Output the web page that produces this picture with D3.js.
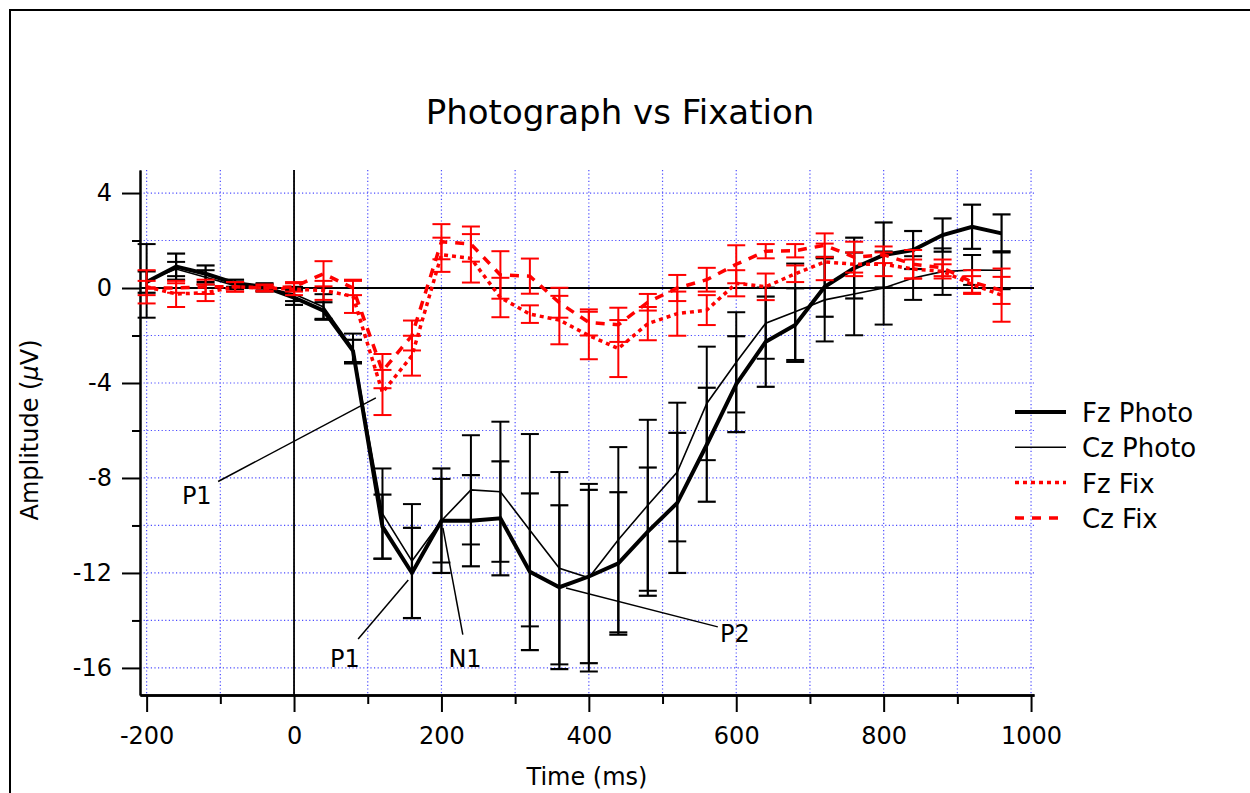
<!DOCTYPE html>
<html>
<head>
<meta charset="utf-8">
<script src="https://cdn.jsdelivr.net/npm/d3@7"></script>
<style>
body { margin: 0; background: #fff; }
svg { display: block; font-family: "DejaVu Sans", sans-serif; }
</style>
</head>
<body>
<svg id="chart" width="1250" height="793"></svg>
<script>
// ERP data (ms vs uV, mean +/- error)
var times = [-200, -160, -120, -80, -40, 0, 40, 80, 120, 160, 200, 240, 280, 320, 360, 400, 440, 480, 520, 560, 600, 640, 680, 720, 760, 800, 840, 880, 920, 960]

var fzPhoto = [0.25, 0.9, 0.6, 0.2, 0.05, -0.4, -0.95, -2.65, -10.05, -12.0, -9.8, -9.8, -9.7, -11.95, -12.6, -12.15, -11.6, -10.26, -9.05, -6.6, -4.05, -2.26, -1.56, 0.05, 0.84, 1.39, 1.6, 2.23, 2.58, 2.3]
var fzPhotoErr = [0.45, 0.55, 0.35, 0.15, 0.15, 0.31, 0.35, 0.47, 1.35, 1.9, 2.2, 1.92, 2.4, 3.3, 3.45, 3.65, 3.0, 2.7, 2.95, 2.4, 2.02, 1.9, 1.55, 1.26, 1.28, 1.37, 0.8, 0.7, 0.93, 0.8]

var czPhoto = [0.3, 0.8, 0.45, 0.1, 0.0, -0.25, -0.8, -2.55, -9.5, -11.5, -9.8, -8.5, -8.58, -10.2, -11.8, -12.2, -10.6, -9.15, -7.75, -4.86, -3.13, -1.48, -1.0, -0.5, -0.25, 0.0, 0.42, 0.69, 0.76, 0.75]
var czPhotoErr = [1.55, 0.3, 0.3, 0.15, 0.15, 0.3, 0.54, 0.63, 1.9, 2.4, 1.76, 2.3, 2.95, 4.05, 4.05, 3.95, 3.9, 3.6, 2.92, 2.39, 2.11, 1.5, 2.03, 1.75, 1.74, 1.54, 0.92, 0.98, 0.63, 0.8]

var fzFix = [0.05, -0.25, -0.2, 0.05, 0.0, -0.05, -0.1, -0.35, -4.4, -2.85, 1.4, 1.25, -0.4, -1.1, -1.35, -2.0, -2.55, -1.5, -1.08, -0.93, 0.2, 0.05, 0.6, 1.1, 1.0, 1.0, 0.8, 0.7, 0.15, -0.3]
var fzFixErr = [0.7, 0.55, 0.35, 0.2, 0.15, 0.25, 0.4, 0.7, 0.95, 0.84, 0.72, 1.02, 0.83, 0.37, 1.02, 1.0, 1.2, 0.7, 0.93, 0.63, 0.55, 0.56, 0.35, 0.77, 0.5, 0.5, 0.4, 0.3, 0.35, 1.12]

var czFix = [0.0, 0.0, 0.05, 0.05, 0.0, 0.05, 0.6, 0.0, -3.5, -2.0, 1.95, 1.85, 0.55, 0.5, -0.62, -1.45, -1.55, -0.6, 0.0, 0.35, 1.0, 1.55, 1.57, 1.8, 1.3, 1.4, 1.0, 0.85, 0.25, -0.1]
var czFixErr = [0.3, 0.2, 0.3, 0.2, 0.12, 0.2, 0.53, 0.3, 0.72, 0.63, 0.74, 0.74, 1.0, 0.74, 0.63, 0.55, 0.72, 0.35, 0.55, 0.5, 0.8, 0.3, 0.28, 0.5, 0.65, 0.35, 0.6, 0.35, 0.5, 0.57]

var xTicks = [-200, 0, 200, 400, 600, 800, 1000]
var xMinorTicks = [-100, 100, 300, 500, 700, 900]
var yTicks = [4, 0, -4, -8, -12, -16]
var yMinorTicks = [2, -2, -6, -10, -14]

// peak labels: text position and pointer line, in data units
var peakLabels = [
    { name: "P1", tx: -132, ty: -9.1, from: [-103, -8.15], to: [111, -4.63] },
    { name: "P1", tx: 69, ty: -15.95, from: [87, -14.78], to: [155, -12.3] },
    { name: "N1", tx: 232, ty: -15.95, from: [229, -14.6], to: [202, -10.1] },
    { name: "P2", tx: 578, ty: -14.9, from: [575, -14.27], to: [369, -12.63], anchor: "start" }
]

var svg = d3.select("#chart")

var x = d3.scaleLinear().domain([-209, 1004]).range([140, 1034])
var y = d3.scaleLinear().domain([-17.14, 4.97]).range([695, 170])

// frame around the graph window
svg.append("path")
    .attr("d", "M10,800 L10,10 L1260,10")
    .attr("fill", "none")
    .attr("stroke", "#000")
    .attr("stroke-width", 2)

svg.append("text")
    .attr("x", 620)
    .attr("y", 124)
    .attr("text-anchor", "middle")
    .attr("font-size", 34)
    .text("Photograph vs Fixation")

// grid
var grid = svg.append("g")
grid.selectAll(".vg")
    .data(d3.range(-200, 1001, 100))
    .enter().append("line")
    .attr("x1", function (d) { return x(d) })
    .attr("x2", function (d) { return x(d) })
    .attr("y1", y.range()[1])
    .attr("y2", y.range()[0])
grid.selectAll(".hg")
    .data(d3.range(-16, 5, 2))
    .enter().append("line")
    .attr("x1", x.range()[0])
    .attr("x2", x.range()[1])
    .attr("y1", function (d) { return y(d) })
    .attr("y2", function (d) { return y(d) })
grid.selectAll("line")
    .attr("stroke", "#4d4dff")
    .attr("stroke-width", 1.2)
    .attr("stroke-dasharray", "1.2,2.4")

// zero lines
svg.append("line")
    .attr("x1", x.range()[0]).attr("x2", x.range()[1])
    .attr("y1", y(0)).attr("y2", y(0))
    .attr("stroke", "#000").attr("stroke-width", 1.8)
svg.append("line")
    .attr("x1", x(0)).attr("x2", x(0))
    .attr("y1", y.range()[1]).attr("y2", y.range()[0])
    .attr("stroke", "#000").attr("stroke-width", 1.8)

// axes: minor ticks first (no labels), then major ticks with labels
function styleAxis(g, width) {
    g.select(".domain").attr("stroke-width", width)
    g.selectAll(".tick line").attr("stroke-width", 2)
    g.selectAll(".tick text")
        .attr("font-size", 24)
        .attr("font-family", "DejaVu Sans")
        .text(function (d) { return String(d) })  // plain hyphen minus
}

svg.append("g")
    .attr("transform", "translate(0," + y.range()[0] + ")")
    .call(d3.axisBottom(x).tickValues(xMinorTicks).tickSize(9).tickSizeOuter(0))
    .call(styleAxis, 2.5)
    .selectAll(".tick text").remove()
svg.append("g")
    .attr("transform", "translate(0," + y.range()[0] + ")")
    .call(d3.axisBottom(x).tickValues(xTicks).tickSize(17).tickSizeOuter(0).tickPadding(15))
    .call(styleAxis, 2.5)

svg.append("g")
    .attr("transform", "translate(" + x.range()[0] + ",0)")
    .call(d3.axisLeft(y).tickValues(yMinorTicks).tickSize(8).tickSizeOuter(0))
    .call(styleAxis, 2)
    .selectAll(".tick text").remove()
svg.append("g")
    .attr("transform", "translate(" + x.range()[0] + ",0)")
    .call(d3.axisLeft(y).tickValues(yTicks).tickSize(18).tickSizeOuter(0).tickPadding(10))
    .call(styleAxis, 2)

svg.append("text")
    .attr("x", (x.range()[0] + x.range()[1]) / 2)
    .attr("y", 785)
    .attr("text-anchor", "middle")
    .attr("font-size", 24)
    .text("Time (ms)")

var yLabel = svg.append("text")
    .attr("transform", "translate(38," + 430 + ") rotate(-90)")
    .attr("text-anchor", "middle")
    .attr("font-size", 24)
yLabel.append("tspan").text("Amplitude (")
yLabel.append("tspan").attr("font-style", "italic").text("\u03bc")
yLabel.append("tspan").text("V)")

// series
var series = [
    { name: "Fz Photo", values: fzPhoto, err: fzPhotoErr, color: "#000", width: 4, dash: null, barWidth: 2.2 },
    { name: "Cz Photo", values: czPhoto, err: czPhotoErr, color: "#000", width: 1.6, dash: null, barWidth: 2 },
    { name: "Fz Fix", values: fzFix, err: fzFixErr, color: "#ff0000", width: 3.5, dash: "4,4", barWidth: 2 },
    { name: "Cz Fix", values: czFix, err: czFixErr, color: "#ff0000", width: 3.5, dash: "9,8", barWidth: 2 }
]

var line = d3.line()
    .x(function (d) { return x(d[0]) })
    .y(function (d) { return y(d[1]) })

var capHalf = 9

series.forEach(function (s) {
    var pts = times.map(function (t, i) { return [t, s.values[i], s.err[i]] })
    var g = svg.append("g")

    var bars = g.selectAll(".bar")
        .data(pts)
        .enter().append("g")
        .attr("stroke", s.color)
        .attr("stroke-width", s.barWidth)
    bars.append("line")
        .attr("x1", function (d) { return x(d[0]) })
        .attr("x2", function (d) { return x(d[0]) })
        .attr("y1", function (d) { return y(d[1] + d[2]) })
        .attr("y2", function (d) { return y(d[1] - d[2]) })
    bars.append("line")
        .attr("x1", function (d) { return x(d[0]) - capHalf })
        .attr("x2", function (d) { return x(d[0]) + capHalf })
        .attr("y1", function (d) { return y(d[1] + d[2]) })
        .attr("y2", function (d) { return y(d[1] + d[2]) })
    bars.append("line")
        .attr("x1", function (d) { return x(d[0]) - capHalf })
        .attr("x2", function (d) { return x(d[0]) + capHalf })
        .attr("y1", function (d) { return y(d[1] - d[2]) })
        .attr("y2", function (d) { return y(d[1] - d[2]) })

    g.append("path")
        .datum(pts)
        .attr("d", line)
        .attr("fill", "none")
        .attr("stroke", s.color)
        .attr("stroke-width", s.width)
        .attr("stroke-linejoin", "miter")
        .attr("stroke-dasharray", s.dash)
})

// peak annotations
peakLabels.forEach(function (p) {
    svg.append("line")
        .attr("x1", x(p.from[0])).attr("y1", y(p.from[1]))
        .attr("x2", x(p.to[0])).attr("y2", y(p.to[1]))
        .attr("stroke", "#000").attr("stroke-width", 1.5)
    svg.append("text")
        .attr("x", x(p.tx))
        .attr("y", y(p.ty))
        .attr("text-anchor", p.anchor || "middle")
        .attr("font-size", 24)
        .text(p.name)
})

// legend
var legend = svg.append("g").attr("transform", "translate(1015,412)")
var rows = legend.selectAll(".row")
    .data(series)
    .enter().append("g")
    .attr("transform", function (d, i) { return "translate(0," + (i * 35.3) + ")" })
rows.append("line")
    .attr("x1", 0).attr("x2", 51)
    .attr("stroke", function (d) { return d.color })
    .attr("stroke-width", function (d) { return d.width })
    .attr("stroke-dasharray", function (d) { return d.dash })
rows.append("text")
    .attr("x", 67)
    .attr("y", 10)
    .attr("font-size", 26)
    .text(function (d) { return d.name })
</script>
</body>
</html>
